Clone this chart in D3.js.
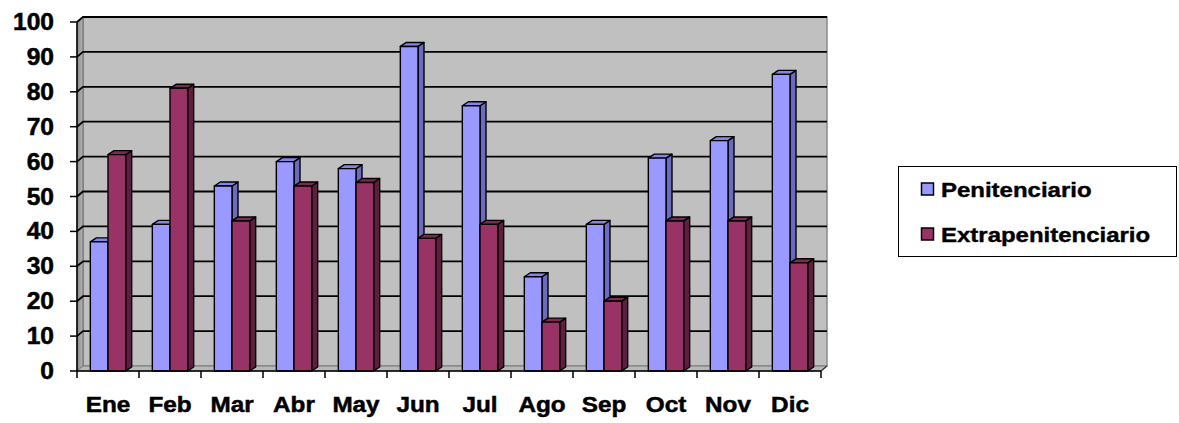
<!DOCTYPE html>
<html><head><meta charset="utf-8">
<script src="https://cdn.jsdelivr.net/npm/d3@7"></script>
<style>html,body{margin:0;padding:0;background:#fff;}svg{display:block;}</style>
</head><body>
<svg id="chart" width="1179" height="423"></svg>
<script>
const months = ["Ene","Feb","Mar","Abr","May","Jun","Jul","Ago","Sep","Oct","Nov","Dic"];
const seriesNames = ["Penitenciario","Extrapenitenciario"];
const penitenciario = [37,42,53,60,58,93,76,27,42,61,66,85];
const extrapenitenciario = [62,81,43,53,54,38,42,14,20,43,43,31];
const yTicks = [0,10,20,30,40,50,60,70,80,90,100];

const colors = {
  Penitenciario: {front:"#9999ff", side:"#6b6bc2", top:"#8585e6"},
  Extrapenitenciario: {front:"#993366", side:"#5e1f3f", top:"#7d2953"}
};

const svg = d3.select("#chart");
const font = "'Liberation Sans', Arial, sans-serif";
const x = d3.scaleBand().domain(months).range([77, 821]).paddingInner(0.43).paddingOuter(0.215);
const xs = d3.scaleBand().domain(seriesNames).range([0, x.bandwidth()]);
const xCat = d3.scaleBand().domain(months).range([77, 821]);
const y = d3.scaleLinear().domain([0,100]).range([371, 22]);
const WDX = 6, WDY = 5;   // wall depth
const BDX = 6, BDY = 4;   // bar depth
const x0 = 77, x1 = 821;

// back wall
svg.append("rect").attr("x", x0+WDX).attr("y", y(100)-WDY)
  .attr("width", x1-x0).attr("height", y(0)-y(100))
  .attr("fill", "#c0c0c0").attr("stroke", "#8a8a8a").attr("stroke-width", 1.5);
// left wall
const lg = svg.append("defs").append("linearGradient").attr("id","lw").attr("x1","0").attr("x2","1");
lg.append("stop").attr("offset","0").attr("stop-color","#8c8c8c");
lg.append("stop").attr("offset","1").attr("stop-color","#b4b4b4");
svg.append("path").attr("d", `M${x0},${y(100)} L${x0+WDX},${y(100)-WDY} L${x0+WDX},${y(0)-WDY} L${x0},${y(0)} Z`)
  .attr("fill", "url(#lw)").attr("stroke", "#6a6a6a").attr("stroke-width", 1);
// floor
svg.append("path").attr("d", `M${x0},${y(0)} L${x0+WDX},${y(0)-WDY} L${x1+WDX},${y(0)-WDY} L${x1},${y(0)} Z`)
  .attr("fill", "#b8b8b8").attr("stroke", "#7a7a7a").attr("stroke-width", 1);

// gridlines
yTicks.filter(v => v > 0).forEach(v => {
  svg.append("path")
    .attr("d", `M${x0},${y(v)} L${x0+WDX},${y(v)-WDY} L${x1+WDX},${y(v)-WDY}`)
    .attr("fill","none").attr("stroke","#000").attr("stroke-width", 1.8);
});

// bars
const data = months.map((m,i) => ({m, vals:[
  {s:"Penitenciario", v:penitenciario[i]},
  {s:"Extrapenitenciario", v:extrapenitenciario[i]}
]}));
data.forEach(d => {
  d.vals.forEach(b => {
    const bx = x(d.m) + xs(b.s), bw = xs.bandwidth();
    const top = y(b.v), bot = y(0);
    const c = colors[b.s];
    const g = svg.append("g").attr("stroke","#000").attr("stroke-width",1.4).attr("stroke-linejoin","round");
    g.append("path").attr("d", `M${bx+bw},${bot} L${bx+bw+BDX},${bot-BDY} L${bx+bw+BDX},${top-BDY} L${bx+bw},${top} Z`).attr("fill", c.side);
    g.append("path").attr("d", `M${bx},${top} L${bx+BDX},${top-BDY} L${bx+bw+BDX},${top-BDY} L${bx+bw},${top} Z`).attr("fill", c.top);
    g.append("rect").attr("x", bx).attr("y", top).attr("width", bw).attr("height", bot-top).attr("fill", c.front);
  });
});

// axes lines
svg.append("line").attr("x1",x0).attr("x2",x0).attr("y1",y(100)).attr("y2",y(0)).attr("stroke","#000").attr("stroke-width",1.5);
svg.append("line").attr("x1",x0).attr("x2",x1).attr("y1",y(0)).attr("y2",y(0)).attr("stroke","#000").attr("stroke-width",1.5);
svg.append("line").attr("x1",x1).attr("x2",x1+WDX).attr("y1",y(0)).attr("y2",y(0)-WDY).attr("stroke","#333").attr("stroke-width",1.2);

// y ticks and labels
yTicks.forEach(v => {
  svg.append("line").attr("x1",x0-7).attr("x2",x0).attr("y1",y(v)).attr("y2",y(v)).attr("stroke","#000").attr("stroke-width",1.5);
  svg.append("text").attr("transform",`translate(54,${y(v)+8}) scale(1.07,1)`)
    .attr("text-anchor","end").attr("font-family",font).attr("font-weight","bold").attr("font-size",23)
    .attr("fill","#000").attr("stroke","#000").attr("stroke-width",0.5).text(v);
});
// x ticks and labels
months.forEach((m,i) => {
  svg.append("line").attr("x1",xCat(m)).attr("x2",xCat(m)).attr("y1",y(0)).attr("y2",y(0)+7).attr("stroke","#000").attr("stroke-width",1.5);
  svg.append("text").attr("transform",`translate(${xCat(m)+xCat.bandwidth()/2},412) scale(1.08,1)`)
    .attr("text-anchor","middle").attr("font-family",font).attr("font-weight","bold").attr("font-size",22.5)
    .attr("fill","#000").attr("stroke","#000").attr("stroke-width",0.5).text(m);
});
svg.append("line").attr("x1",x1).attr("x2",x1).attr("y1",y(0)).attr("y2",y(0)+7).attr("stroke","#000").attr("stroke-width",1.5);

// legend
svg.append("rect").attr("x",898.5).attr("y",166.5).attr("width",278).attr("height",90)
  .attr("fill","#fff").attr("stroke","#000").attr("stroke-width",1);
seriesNames.forEach((s,i) => {
  const ly = 183 + i*45;
  svg.append("rect").attr("x",921.5).attr("y",ly).attr("width",12).attr("height",12)
    .attr("fill",colors[s].front).attr("stroke","#000").attr("stroke-width",1.5);
  svg.append("text").attr("transform",`translate(941,${ly+14}) scale(1.17,1)`)
    .attr("font-family",font).attr("font-weight","bold").attr("font-size",20.5)
    .attr("fill","#000").attr("stroke","#000").attr("stroke-width",0.4).text(s);
});
</script>
</body></html>
